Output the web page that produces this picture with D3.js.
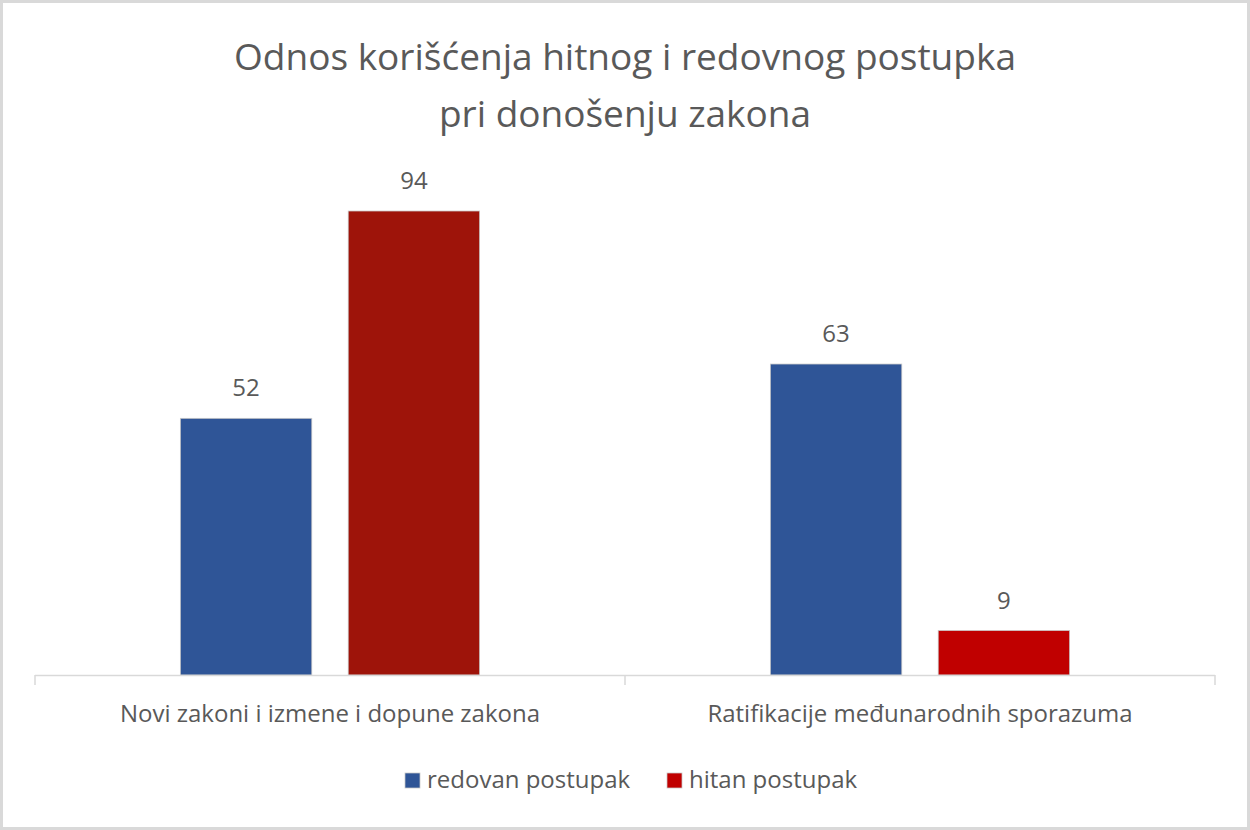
<!DOCTYPE html>
<html><head><meta charset="utf-8">
<script src="https://cdn.jsdelivr.net/npm/d3@7"></script>
<style>body{margin:0;background:#fff}svg{display:block}text{font-family:"Open Sans",Lato,sans-serif}</style>
</head><body>
<svg id="c" width="1250" height="830"></svg>
<script>
const categories = ["Novi zakoni i izmene i dopune zakona", "Ratifikacije međunarodnih sporazuma"];
const seriesNames = ["redovan postupak", "hitan postupak"];
const redovan = [52, 63];
const hitan = [94, 9];
const titleLines = ["Odnos korišćenja hitnog i redovnog postupka", "pri donošenju zakona"];

const blue = "#2F5597";
const redPoint = ["#9E140A", "#C00000"];
const legendColors = [blue, "#C00000"];
const textColor = "#595959";

const svg = d3.select("#c");
svg.append("rect").attr("x",1.5).attr("y",1.5).attr("width",1247).attr("height",827)
  .attr("fill","#fff").attr("stroke","#d9d9d9").attr("stroke-width",3);

svg.selectAll("text.title").data(titleLines).enter().append("text")
  .attr("x",625).attr("y",(d,i)=>70+i*57).attr("text-anchor","middle")
  .attr("font-size",37).attr("fill",textColor).text(d=>d);

const left=35,right=1215,base=675;
const x0 = d3.scaleBand().domain(categories).range([left,right]).paddingInner(0).paddingOuter(0);
const x1 = d3.scaleBand().domain(seriesNames).range([0,x0.bandwidth()]).paddingInner(0.217).paddingOuter(0.866);
const y = d3.scaleLinear().domain([0,100]).range([base, base-493.6]);

const data = [];
categories.forEach((c,i)=>{
  data.push({cat:c, s:seriesNames[0], v:redovan[i], color:blue});
  data.push({cat:c, s:seriesNames[1], v:hitan[i], color:redPoint[i]});
});

svg.selectAll("rect.bar").data(data).enter().append("rect")
  .attr("x",d=>x0(d.cat)+x1(d.s)).attr("y",d=>y(d.v))
  .attr("width",x1.bandwidth()).attr("height",d=>base-y(d.v))
  .attr("fill",d=>d.color).attr("stroke","#c8c8c8").attr("stroke-width",0.75);

svg.selectAll("text.val").data(data).enter().append("text")
  .attr("x",d=>x0(d.cat)+x1(d.s)+x1.bandwidth()/2).attr("y",d=>y(d.v)-22)
  .attr("text-anchor","middle").attr("font-size",24).attr("fill",textColor).text(d=>d.v);

const g = svg.append("g");
g.append("line").attr("x1",left).attr("x2",right).attr("y1",base+0.5).attr("y2",base+0.5).attr("stroke","#d9d9d9").attr("stroke-width",1.5);
const bounds = [left, ...categories.slice(1).map(c=>x0(c)), right];
g.selectAll("line.t").data(bounds).enter().append("line")
  .attr("x1",d=>d).attr("x2",d=>d).attr("y1",base).attr("y2",base+10).attr("stroke","#d9d9d9").attr("stroke-width",1.5);
g.selectAll("text.cat").data(categories).enter().append("text")
  .attr("x",d=>x0(d)+x0.bandwidth()/2).attr("y",722).attr("text-anchor","middle")
  .attr("font-size",24).attr("fill",textColor).text(d=>d);

// legend
const leg = [{n:seriesNames[0],c:legendColors[0],x:405},{n:seriesNames[1],c:legendColors[1],x:667}];
const lg = svg.selectAll("g.leg").data(leg).enter().append("g").attr("transform",d=>`translate(${d.x},773)`);
lg.append("rect").attr("x",0).attr("y",0).attr("width",15).attr("height",15).attr("fill",d=>d.c).attr("stroke","#c8c8c8").attr("stroke-width",0.75);
lg.append("text").attr("x",22).attr("y",15).attr("font-size",24).attr("fill",textColor).text(d=>d.n);
</script>
</body></html>
